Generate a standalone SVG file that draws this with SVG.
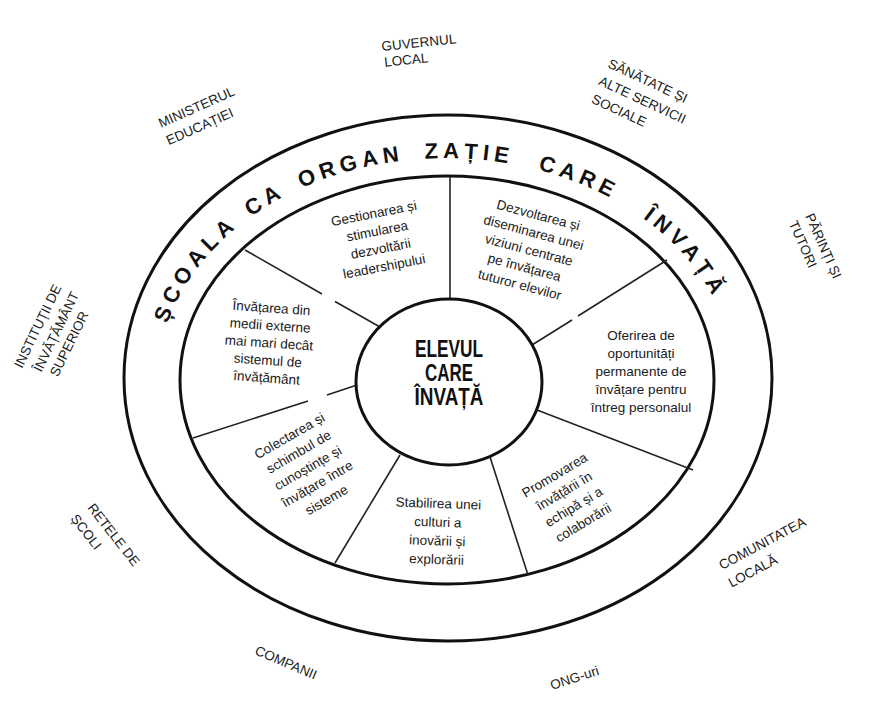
<svg xmlns="http://www.w3.org/2000/svg" width="869" height="709" viewBox="0 0 869 709">
<style>
.ring{fill:none;stroke:#111;stroke-width:3}
.div{stroke:#222;stroke-width:1.6;fill:none}
.sec{font-family:"Liberation Sans",Arial,sans-serif;font-size:13.5px;fill:#1a1a1a;text-anchor:middle}
.lbl{font-family:"Liberation Sans",Arial,sans-serif;font-size:13.5px;fill:#1a1a1a}
.arc{font-family:"Liberation Sans",Arial,sans-serif;font-size:22px;font-weight:bold;fill:#111;letter-spacing:5px}
.ctr{font-family:"Liberation Sans",Arial,sans-serif;font-size:23px;font-weight:bold;fill:#111;text-anchor:middle}
</style>
<defs>
<path id="arcpath" d="M162.4,341.5 A288,222 0 0,1 729.6,341.5"/>
</defs>
<rect width="869" height="709" fill="#fff"/>
<g id="rings">
<ellipse class="ring" cx="448" cy="378" rx="324" ry="263"/>
<ellipse class="ring" cx="447" cy="380" rx="267" ry="204"/>
</g>
<g id="connectors">
<line class="div" x1="450" y1="177" x2="450" y2="299"/>
<line class="div" x1="245" y1="250" x2="322" y2="294"/>
<line class="div" x1="335" y1="301.5" x2="380" y2="327"/>
<line class="div" x1="667" y1="260" x2="578" y2="316"/>
<line class="div" x1="572" y1="320" x2="532" y2="345"/>
<line class="div" x1="193" y1="438" x2="308" y2="401"/>
<line class="div" x1="327" y1="395" x2="357" y2="385"/>
<line class="div" x1="400" y1="455" x2="335" y2="563"/>
<line class="div" x1="490" y1="457" x2="528" y2="575"/>
<line class="div" x1="537" y1="410" x2="693" y2="470"/>
</g>
<g id="ring-title">
<text class="arc" text-anchor="middle"><textPath href="#arcpath" startOffset="80">ȘCOALA</textPath></text>
<text class="arc" text-anchor="middle"><textPath href="#arcpath" startOffset="177">CA</textPath></text>
<text class="arc" text-anchor="middle"><textPath href="#arcpath" startOffset="268">ORGAN</textPath></text>
<text class="arc" text-anchor="middle"><textPath href="#arcpath" startOffset="386">ZAȚIE</textPath></text>
<text class="arc" text-anchor="middle"><textPath href="#arcpath" startOffset="497">CARE</textPath></text>
<text class="arc" text-anchor="middle"><textPath href="#arcpath" startOffset="627">ÎNVAȚĂ</textPath></text>
</g>
<g id="center">
<ellipse class="ring" cx="449" cy="382" rx="93" ry="83"/>
<text class="ctr" x="449" y="357" textLength="68" lengthAdjust="spacingAndGlyphs">ELEVUL</text>
<text class="ctr" x="449" y="381" textLength="48" lengthAdjust="spacingAndGlyphs">CARE</text>
<text class="ctr" x="449" y="405" textLength="69" lengthAdjust="spacingAndGlyphs">ÎNVAȚĂ</text>
</g>
<g id="s-leadership" transform="translate(379,240) rotate(-11)">
<text class="sec" x="0" y="-22.5">Gestionarea și</text>
<text class="sec" x="0" y="-4.5">stimularea</text>
<text class="sec" x="0" y="13.5">dezvoltării</text>
<text class="sec" x="0" y="31.5">leadershipului</text>
</g>
<g id="s-viziune" transform="translate(529,250) rotate(15)">
<text class="sec" x="0" y="-31.5">Dezvoltarea și</text>
<text class="sec" x="0" y="-13.5">diseminarea unei</text>
<text class="sec" x="0" y="4.5">viziuni centrate</text>
<text class="sec" x="0" y="22.5">pe învățarea</text>
<text class="sec" x="0" y="40.5">tuturor elevilor</text>
</g>
<g id="s-medii" transform="translate(269,343) rotate(4)">
<text class="sec" x="0" y="-30.5">Învățarea din</text>
<text class="sec" x="0" y="-13">medii externe</text>
<text class="sec" x="0" y="4.5">mai mari decât</text>
<text class="sec" x="0" y="22">sistemul de</text>
<text class="sec" x="0" y="39.5">învățământ</text>
</g>
<g id="s-oportunitati" transform="translate(641,371)">
<text class="sec" x="0" y="-31.5">Oferirea de</text>
<text class="sec" x="0" y="-13.5">oportunități</text>
<text class="sec" x="0" y="4.5">permanente de</text>
<text class="sec" x="0" y="22.5">învățare pentru</text>
<text class="sec" x="0" y="40.5">întreg personalul</text>
</g>
<g id="s-colectarea" transform="translate(308,468) rotate(-30)">
<text class="sec" x="0" y="-32.5">Colectarea și</text>
<text class="sec" x="0" y="-14">schimbul de</text>
<text class="sec" x="0" y="4.5">cunoștințe și</text>
<text class="sec" x="0" y="23">învățare între</text>
<text class="sec" x="0" y="41.5">sisteme</text>
</g>
<g id="s-cultura" transform="translate(437.5,531.5) rotate(2)">
<text class="sec" x="0" y="-23.5">Stabilirea unei</text>
<text class="sec" x="0" y="-4.8">culturi a</text>
<text class="sec" x="0" y="13.8">inovării și</text>
<text class="sec" x="0" y="32.5">explorării</text>
</g>
<g id="s-echipa" transform="translate(569,499) rotate(-31)">
<text class="sec" x="0" y="-23.25">Promovarea</text>
<text class="sec" x="0" y="-4.75">învățării în</text>
<text class="sec" x="0" y="13.75">echipă și a</text>
<text class="sec" x="0" y="32.25">colaborării</text>
</g>
<g id="l-guvernul" transform="translate(382,51) rotate(-6)">
<text class="lbl" x="0" y="0">GUVERNUL</text>
<text class="lbl" x="1" y="16">LOCAL</text>
</g>
<g id="l-minister" transform="translate(161,128) rotate(-24)">
<text class="lbl" x="0" y="0">MINISTERUL</text>
<text class="lbl" x="0" y="19">EDUCAȚIEI</text>
</g>
<g id="l-sanatate" transform="translate(607,67) rotate(25)">
<text class="lbl" x="0" y="0">SĂNĂTATE ȘI</text>
<text class="lbl" x="-1" y="19.5">ALTE SERVICII</text>
<text class="lbl" x="0" y="39">SOCIALE</text>
</g>
<g id="l-parinti" transform="translate(805,216) rotate(66)">
<text class="lbl" x="0" y="0">PĂRINȚI ȘI</text>
<text class="lbl" x="0" y="18">TUTORI</text>
</g>
<g id="l-institutii" transform="translate(22,369) rotate(-64)">
<text class="lbl" x="0" y="0">INSTITUȚII DE</text>
<text class="lbl" x="5" y="19">ÎNVĂȚĂMÂNT</text>
<text class="lbl" x="8" y="36">SUPERIOR</text>
</g>
<g id="l-retele" transform="translate(87,508) rotate(52)">
<text class="lbl" x="0" y="0">RETELE DE</text>
<text class="lbl" x="-2" y="20">ȘCOLI</text>
</g>
<g id="l-companii" transform="translate(254,654) rotate(23)">
<text class="lbl" x="0" y="0">COMPANII</text>
</g>
<g id="l-ong" transform="translate(552,690) rotate(-18)">
<text class="lbl" x="0" y="0">ONG-uri</text>
</g>
<g id="l-comunitatea" transform="translate(722,570) rotate(-28)">
<text class="lbl" x="0" y="0">COMUNITATEA</text>
<text class="lbl" x="0" y="20">LOCALĂ</text>
</g>
</svg>
